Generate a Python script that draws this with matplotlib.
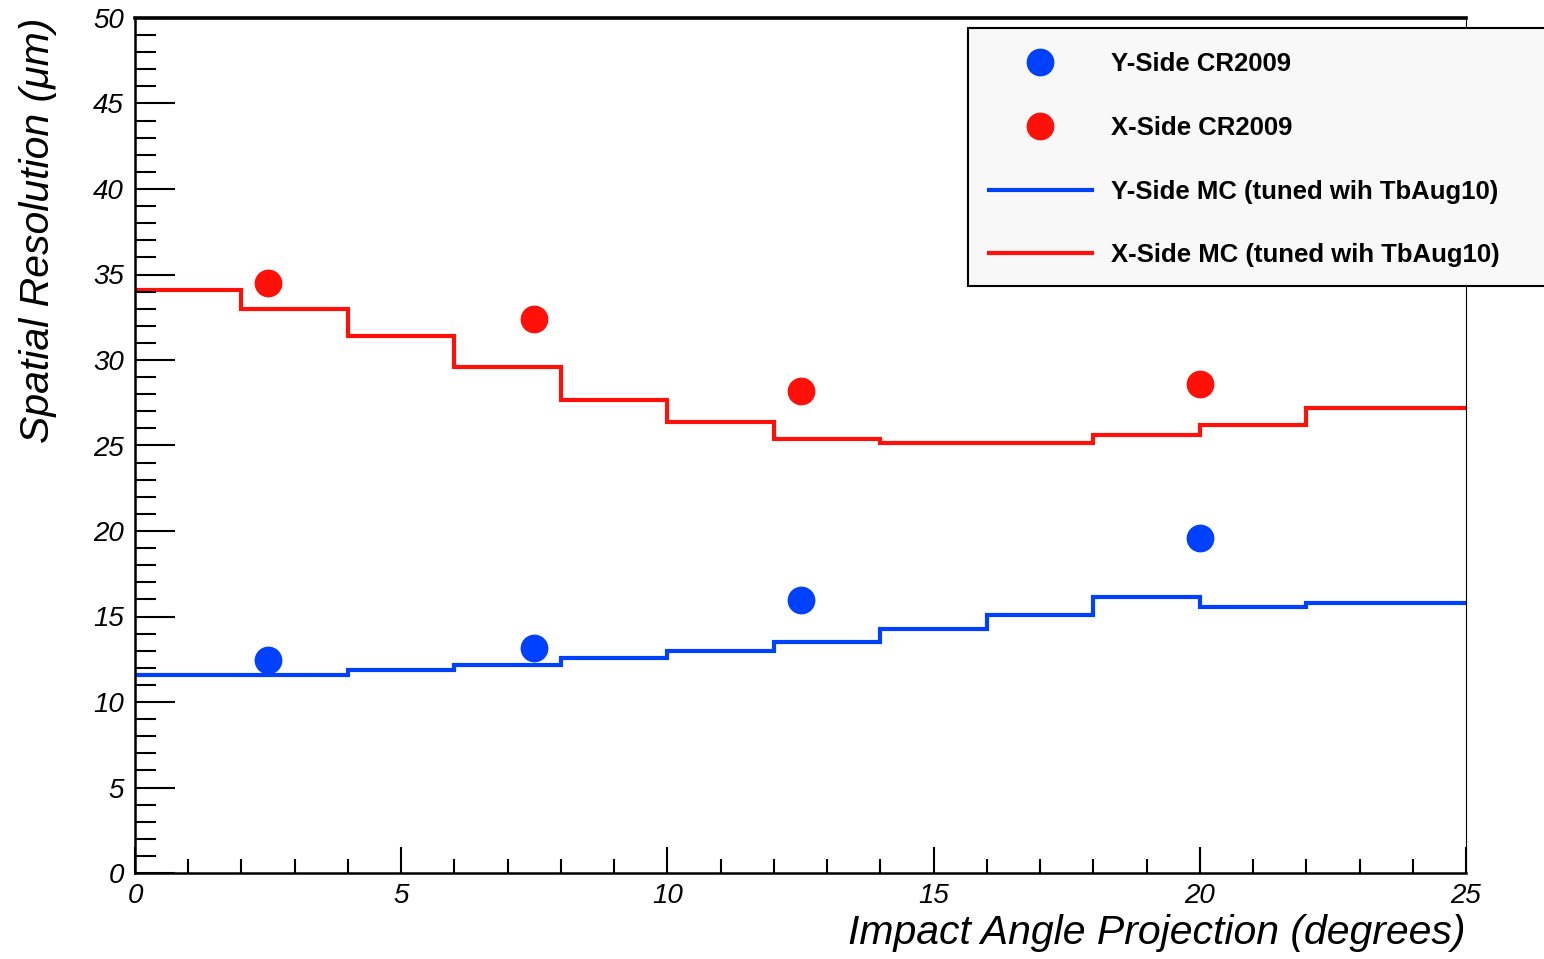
import matplotlib.pyplot as plt
from matplotlib.patches import Rectangle
from matplotlib.ticker import MultipleLocator

# data
angle_pts = [2.5, 7.5, 12.5, 20.0]
y_side_cr = [12.46, 13.14, 15.96, 19.6]
x_side_cr = [34.52, 32.41, 28.2, 28.6]

edges = [0, 2, 4, 6, 8, 10, 12, 14, 16, 18, 20, 22, 24, 26]
y_side_mc = [11.58, 11.58, 11.87, 12.16, 12.59, 12.98, 13.53, 14.25, 15.09, 16.12, 15.58, 15.8, 15.8]
x_side_mc = [34.09, 32.98, 31.42, 29.6, 27.66, 26.35, 25.38, 25.13, 25.13, 25.6, 26.2, 27.21, 27.21]

labels = ['Y-Side CR2009', 'X-Side CR2009',
          'Y-Side MC (tuned wih TbAug10)', 'X-Side MC (tuned wih TbAug10)']

blue = '#0040ff'
red = '#ff1008'

W, H = 1544, 959
plt.rcParams['font.family'] = ['Liberation Sans', 'DejaVu Sans']

fig = plt.figure(figsize=(W / 100, H / 100), dpi=100)
ax = fig.add_axes([135 / W, 1 - 873 / H, (1466 - 135) / W, (873 - 18) / H])

# MC histograms
h_y = ax.stairs(y_side_mc, edges, color=blue, linewidth=3, baseline=None)
h_x = ax.stairs(x_side_mc, edges, color=red, linewidth=3, baseline=None)

# data points
p_y, = ax.plot(angle_pts, y_side_cr, 'o', color=blue, markersize=20, markeredgewidth=0)
p_x, = ax.plot(angle_pts, x_side_cr, 'o', color=red, markersize=20, markeredgewidth=0)

ax.set_xlim(0, 25)
ax.set_ylim(0, 50)

# ROOT style ticks
ax.xaxis.set_major_locator(MultipleLocator(5))
ax.xaxis.set_minor_locator(MultipleLocator(1))
ax.yaxis.set_major_locator(MultipleLocator(5))
ax.yaxis.set_minor_locator(MultipleLocator(1))
ax.tick_params(axis='y', which='major', direction='in', length=29, width=1.5, pad=8)
ax.tick_params(axis='y', which='minor', direction='in', length=15, width=1.5)
ax.tick_params(axis='x', which='major', direction='in', length=19, width=1.5, pad=7)
ax.tick_params(axis='x', which='minor', direction='in', length=10, width=1.5)
ax.tick_params(which='both', top=False, right=False)
for lab in ax.get_xticklabels() + ax.get_yticklabels():
    lab.set_fontsize(20)
    lab.set_fontstyle('italic')

ax.spines['top'].set_linewidth(2.6)
ax.spines['left'].set_linewidth(1.8)
ax.spines['bottom'].set_linewidth(1.8)
ax.spines['right'].set_linewidth(0.8)

# axis titles
fig.text(1466 / W, 1 - 933 / H, 'Impact Angle Projection (degrees)',
         ha='right', va='center', fontsize=29.5, fontstyle='italic')
fig.text(38 / W, 1 - 18 / H, 'Spatial Resolution (\u03bcm)', rotation=90,
         ha='center', va='top', fontsize=29.5, fontstyle='italic')

# legend box (cut by the right edge like the original)
box = Rectangle((968 / W, 1 - 286 / H), (1600 - 968) / W, (286 - 28) / H,
                transform=fig.transFigure, facecolor='#f8f8f8', edgecolor='black',
                linewidth=1.5, zorder=5)
fig.add_artist(box)
leg = fig.legend([p_y, p_x, h_y, h_x], labels, loc='upper left',
                 bbox_to_anchor=(989 / W, 1 - 52 / H), frameon=False,
                 borderpad=0, borderaxespad=0, handlelength=4.0, handletextpad=0.75,
                 labelspacing=1.55, numpoints=1,
                 prop={'family': 'Liberation Sans', 'weight': 'bold', 'size': 18.5})
leg.set_zorder(6)

fig.savefig('out.png', dpi=100)
